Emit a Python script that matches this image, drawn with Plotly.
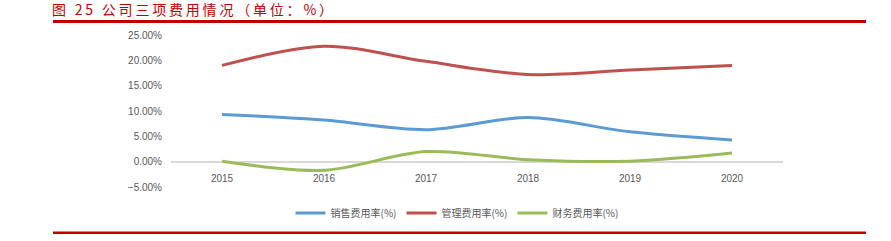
import plotly.graph_objects as go

years = ["2015", "2016", "2017", "2018", "2019", "2020"]
sales_rate = [9.3, 8.2, 6.3, 8.7, 5.9, 4.3]
admin_rate = [19.0, 22.8, 19.8, 17.2, 18.1, 19.0]
finance_rate = [0.1, -1.7, 2.0, 0.4, 0.1, 1.7]
series_names = ["销售费用率(%)", "管理费用率(%)", "财务费用率(%)"]
series_colors = ["#5B9BD5", "#C0504D", "#9BBB59"]
title_text = "图 25 公司三项费用情况（单位：%）"

fig = go.Figure()
for name, vals, col in zip(series_names, [sales_rate, admin_rate, finance_rate], series_colors):
    fig.add_trace(go.Scatter(
        x=years, y=vals, name=name, mode="lines",
        line=dict(color=col, width=3, shape="spline", smoothing=0.9),
    ))

L, R, T, B = 171, 783, 35, 187
W, H = 891, 241
pw, ph = R - L, B - T

def px_x(x):
    return (x - L) / pw

def px_y(y):
    return (B - y) / ph

# widen the title's character spacing with thin spaces (visual letter-spacing)
spaced_title = "\u2009".join(title_text)

fig.update_layout(
    width=W, height=H,
    margin=dict(l=L, r=W - R, t=T, b=H - B, autoexpand=False),
    paper_bgcolor="white", plot_bgcolor="white",
    font=dict(family="Liberation Sans, Arial, sans-serif", size=10, color="#595959"),
    showlegend=True,
    legend=dict(
        orientation="h", xref="container", x=457 / W, xanchor="center",
        yref="container", y=1 - 213 / H, yanchor="middle",
        font=dict(family="Noto Sans CJK SC, Liberation Sans", size=10, color="#595959"),
        itemwidth=30, tracegroupgap=0, bgcolor="rgba(0,0,0,0)",
    ),
    xaxis=dict(
        type="category", range=[-0.5, 5.5], showgrid=False, zeroline=False,
        showline=False, anchor="free", position=5 / 30,
        ticks="outside", ticklen=7, tickcolor="rgba(0,0,0,0)",
        tickfont=dict(size=10, color="#595959"),
    ),
    yaxis=dict(
        range=[-5, 25], dtick=5, tick0=0, showgrid=False,
        zeroline=True, zerolinecolor="#D9D9D9", zerolinewidth=1.5,
        showline=False, tickformat=".2f", ticksuffix="%",
        ticks="outside", ticklen=6, tickcolor="rgba(0,0,0,0)",
        tickfont=dict(size=10, color="#595959"),
    ),
    annotations=[
        dict(text=spaced_title, xref="paper", yref="paper",
             x=px_x(50), xanchor="left", y=px_y(9), yanchor="middle",
             showarrow=False,
             font=dict(family="Noto Sans CJK SC", size=14, color="#C00000")),
    ],
    shapes=[
        dict(type="line", xref="paper", yref="paper",
             x0=px_x(53), x1=px_x(866), y0=px_y(21.5), y1=px_y(21.5),
             line=dict(color="#C00000", width=3)),
        dict(type="line", xref="paper", yref="paper",
             x0=px_x(53), x1=px_x(866), y0=px_y(232.8), y1=px_y(232.8),
             line=dict(color="#C00000", width=2.5)),
    ],
)

fig.write_html("out.html")
